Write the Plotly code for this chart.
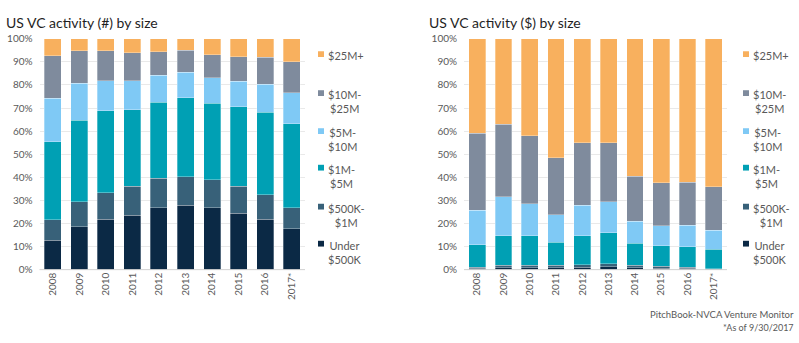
import plotly.graph_objects as go

W, H = 799, 343

years = ["2008", "2009", "2010", "2011", "2012", "2013", "2014", "2015", "2016", "2017*"]
series_names = ["Under<br>$500K", "$500K-<br>$1M", "$1M-<br>$5M", "$5M-<br>$10M", "$10M-<br>$25M", "$25M+"]
colors = ["#0B2945", "#386179", "#00A0B4", "#7FC9F5", "#7F8B9D", "#F8B05E"]

# US VC activity (#) by size, % of deal count
count_under500k = [12.8, 18.6, 21.9, 23.6, 26.7, 27.8, 26.7, 24.4, 21.9, 17.8]
count_500k_1m   = [8.9, 10.8, 11.4, 12.5, 12.9, 12.5, 12.2, 11.7, 10.6, 9.1]
count_1m_5m     = [33.6, 35.3, 35.6, 33.2, 32.8, 34.1, 33.2, 34.5, 35.6, 36.3]
count_5m_10m    = [18.9, 16.1, 12.9, 12.5, 11.8, 11.0, 11.0, 10.9, 12.3, 13.5]
count_10m_25m   = [18.4, 13.9, 12.9, 12.2, 10.1, 9.7, 10.0, 10.7, 11.5, 13.4]
count_25m_plus  = [7.4, 5.3, 5.3, 6.0, 5.7, 4.9, 6.9, 7.8, 8.1, 9.9]

# US VC activity ($) by size, % of capital invested
value_under500k = [0.6, 0.9, 0.9, 0.9, 1.0, 1.2, 0.9, 0.7, 0.5, 0.2]
value_500k_1m   = [0.5, 0.9, 0.9, 0.9, 1.1, 1.3, 0.9, 0.7, 0.6, 0.2]
value_1m_5m     = [9.6, 12.8, 12.8, 10.0, 12.5, 13.5, 9.7, 9.0, 8.9, 8.4]
value_5m_10m    = [15.1, 16.9, 14.0, 12.0, 13.3, 13.4, 9.5, 8.6, 9.2, 8.3]
value_10m_25m   = [33.2, 31.4, 29.3, 24.7, 27.0, 25.5, 19.4, 18.6, 18.7, 18.7]
value_25m_plus  = [41.0, 37.1, 42.1, 51.5, 45.1, 45.1, 59.6, 62.4, 62.1, 64.2]

count_series = [count_under500k, count_500k_1m, count_1m_5m, count_5m_10m, count_10m_25m, count_25m_plus]
value_series = [value_under500k, value_500k_1m, value_1m_5m, value_5m_10m, value_10m_25m, value_25m_plus]

y_ticks = list(range(0, 101, 10))
y_tick_labels = [f"{v}%" for v in y_ticks]

FONT = "Lato, 'Open Sans', sans-serif"
TXT = "#595959"


def px_x(x):
    return x / W


def px_y(y):
    return 1 - y / H


fig = go.Figure()
for i, name in enumerate(series_names):
    fig.add_trace(go.Bar(x=years, y=count_series[i], name=name, marker=dict(color=colors[i], line=dict(color="rgba(255,255,255,0.5)", width=0.6)),
                         xaxis="x", yaxis="y", showlegend=False))
    fig.add_trace(go.Bar(x=years, y=value_series[i], name=name, marker=dict(color=colors[i], line=dict(color="rgba(255,255,255,0.5)", width=0.6)),
                         xaxis="x2", yaxis="y2", showlegend=False))

axis_common = dict(showgrid=False, showline=False, ticks="", type="category",
                   tickangle=-90, tickfont=dict(family=FONT, size=10, color=TXT))
yaxis_common = dict(range=[0, 100], tickvals=y_ticks, ticktext=y_tick_labels, showgrid=True,
                    gridcolor="#E9E9E9", gridwidth=1, zeroline=False, showline=False, ticks="",
                    ticklabelstandoff=6, tickfont=dict(family=FONT, size=10, color=TXT))

fig.update_layout(
    width=W, height=H, margin=dict(l=0, r=0, t=0, b=0),
    paper_bgcolor="white", plot_bgcolor="white",
    barmode="stack", bargap=0.36,
    showlegend=False,
    xaxis=dict(domain=[px_x(39.5), px_x(305)], anchor="y", **axis_common),
    yaxis=dict(domain=[px_y(273), px_y(33)], anchor="x", **yaxis_common),
    xaxis2=dict(domain=[px_x(464), px_x(727)], anchor="y2", **axis_common),
    yaxis2=dict(domain=[px_y(273), px_y(33)], anchor="x2", **yaxis_common),
    font=dict(family=FONT, color=TXT),
)

# baseline under the bars
for x0, x1 in [(39.5, 305), (464, 727)]:
    fig.add_shape(type="line", xref="paper", yref="paper", x0=px_x(x0), x1=px_x(x1),
                  y0=px_y(273), y1=px_y(273), line=dict(color="#D0D0D0", width=1))

# titles
fig.add_annotation(text="US VC activity (#) by size", xref="paper", yref="paper", x=px_x(4), y=px_y(16),
                   xanchor="left", yanchor="middle", showarrow=False, font=dict(family=FONT, size=14, color="#1F1F1F"))
fig.add_annotation(text="US VC activity ($) by size", xref="paper", yref="paper", x=px_x(427), y=px_y(16),
                   xanchor="left", yanchor="middle", showarrow=False, font=dict(family=FONT, size=14, color="#1F1F1F"))

# legends (top item first)
legend_rows = [49, 89.5, 129, 167, 207.5, 246]
for lx in (318, 743):
    for k, idx in enumerate(range(len(series_names) - 1, -1, -1)):
        yc = legend_rows[k]
        fig.add_shape(type="rect", xref="paper", yref="paper", x0=px_x(lx), x1=px_x(lx + 6),
                      y0=px_y(yc - 3), y1=px_y(yc + 3), line=dict(width=0), fillcolor=colors[idx])
        fig.add_annotation(text=series_names[idx], xref="paper", yref="paper", x=px_x(lx + 8),
                           y=px_y(yc - 7), xanchor="left", yanchor="top", align="center", showarrow=False,
                           font=dict(family=FONT, size=11, color=TXT))

# footer
fig.add_annotation(text="PitchBook-NVCA Venture Monitor", xref="paper", yref="paper", x=px_x(796), y=px_y(320),
                   xanchor="right", yanchor="middle", showarrow=False, font=dict(family=FONT, size=9.5, color=TXT))
fig.add_annotation(text="*As of 9/30/2017", xref="paper", yref="paper", x=px_x(796), y=px_y(333),
                   xanchor="right", yanchor="middle", showarrow=False, font=dict(family=FONT, size=9, color=TXT))

fig.write_html("out.html")
